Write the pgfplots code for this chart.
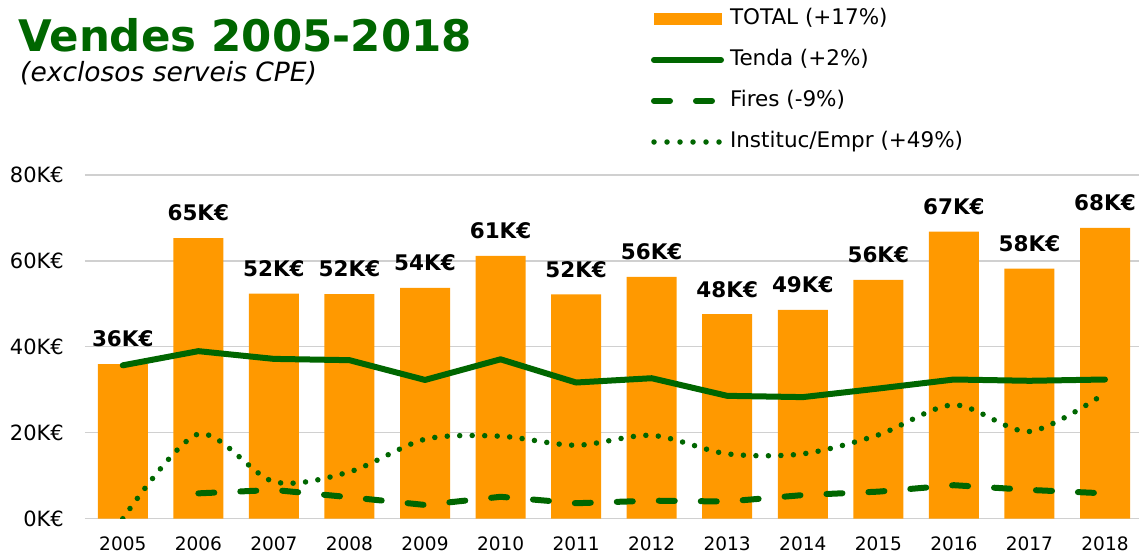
\documentclass[border=0pt]{standalone}
\usepackage{fontspec}
\setmainfont{DejaVu Sans}
\usepackage{pgfplots}
\pgfplotsset{compat=1.18}

\definecolor{barorange}{HTML}{FF9900}
\definecolor{linegreen}{HTML}{006600}
\definecolor{gridgray}{HTML}{D0D0D0}

\begin{document}
\begin{tikzpicture}
\useasboundingbox (-85pt,-36.3pt) rectangle (1054pt,518.7pt);

% title block
\node[anchor=base west, inner sep=0pt, text=linegreen,
      font=\bfseries\fontsize{43.5}{48}\selectfont] at (-67pt,467pt) {Vendes 2005-2018};
\node[anchor=base west, inner sep=0pt,
      font=\itshape\fontsize{26.5}{29}\selectfont] at (-65pt,437pt) {(exclosos serveis CPE)};

\begin{axis}[
    scale only axis,
    width=1054pt, height=343.7pt,
    xmin=2004.5, xmax=2018.45,
    ymin=0, ymax=80,
    xtick={2005,2006,2007,2008,2009,2010,2011,2012,2013,2014,2015,2016,2017,2018},
    xticklabels={2005,2006,2007,2008,2009,2010,2011,2012,2013,2014,2015,2016,2017,2018},
    ytick={0,20,40,60,80},
    yticklabels={0K€,20K€,40K€,60K€,80K€},
    ymajorgrids,
    grid style={gridgray, line width=1.2pt},
    axis line style={draw=none},
    major tick length=0pt,
    tick label style={inner sep=0pt},
    xticklabel style={font=\fontsize{18.5}{20}\selectfont, yshift=-17.5pt},
    yticklabel style={font=\fontsize{21}{23}\selectfont, xshift=-21pt},
    legend style={
        at={(0.5370,1.483)}, anchor=north west,
        draw=none, fill=none, inner sep=0pt, outer sep=0pt,
        font=\fontsize{21.5}{24}\selectfont,
        row sep=21pt, column sep=6pt,
        nodes={inner sep=0pt, text height=15.7pt, text depth=4.3pt},
    },
    legend cell align=left,
]

% TOTAL
\addplot[ybar, bar width=50pt, fill=barorange, draw=none,
    nodes near coords={\pgfmathprintnumber[fixed,precision=0,assume math mode=true]{\pgfplotspointmeta}K€},
    nodes near coords style={anchor=south, inner sep=0pt, yshift=16.7pt,
        font=\bfseries\fontsize{21.5}{23}\selectfont, text=black},
    legend image code/.code={\fill[barorange] (0pt,-6pt) rectangle (68pt,6pt);},
] coordinates {
    (2005,36.0) (2006,65.3) (2007,52.4) (2008,52.3) (2009,53.7) (2010,61.2) (2011,52.2)
    (2012,56.3) (2013,47.6) (2014,48.6) (2015,55.6) (2016,66.8) (2017,58.2) (2018,67.7)
};
\addlegendentry{TOTAL (+17\%)}

% Tenda
\addplot[linegreen, line width=6pt, line cap=round, line join=round,
    legend image code/.code={\draw[linegreen, line width=6pt, line cap=round] (0pt,0pt) -- (67pt,0pt);},
] coordinates {
    (2005,35.7) (2006,39.0) (2007,37.2) (2008,36.9) (2009,32.3) (2010,37.1) (2011,31.7)
    (2012,32.7) (2013,28.6) (2014,28.3) (2015,30.3) (2016,32.4) (2017,32.1) (2018,32.4)
};
\addlegendentry{Tenda (+2\%)}

% Fires
\addplot[linegreen, line width=6pt, line cap=round, line join=round,
    dash pattern=on 16pt off 26pt,
    legend image code/.code={\draw[linegreen, line width=6pt, line cap=round, dash pattern=on 16pt off 26pt] (0pt,0pt) -- (62pt,0pt);},
] coordinates {
    (2006,5.9) (2007,6.7) (2008,5.0) (2009,3.2) (2010,5.1) (2011,3.6)
    (2012,4.2) (2013,4.0) (2014,5.5) (2015,6.3) (2016,7.8) (2017,6.7) (2018,5.9)
};
\addlegendentry{Fires (-9\%)}

% Instituc/Empr
\addplot[linegreen, line width=5.5pt, line cap=round, smooth, tension=0.5,
    dash pattern=on 0pt off 12.5pt,
    legend image code/.code={\draw[linegreen, line width=5.5pt, line cap=round, dash pattern=on 0pt off 13pt] (0pt,0pt) -- (65.1pt,0pt);},
] coordinates {
    (2005,0) (2006,19.7) (2007,8.6) (2008,10.9) (2009,18.5) (2010,19.2) (2011,17.1)
    (2012,19.4) (2013,15.1) (2014,15.1) (2015,19.5) (2016,26.5) (2017,20.3) (2018,29.2)
};
\addlegendentry{Instituc/Empr (+49\%)}

\end{axis}
\end{tikzpicture}
\end{document}
